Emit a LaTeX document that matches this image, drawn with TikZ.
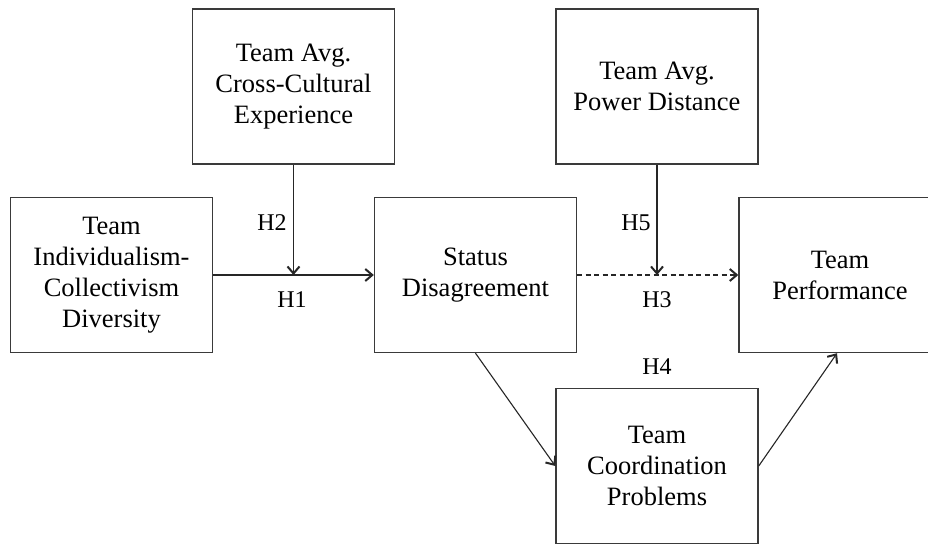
\documentclass[tikz,border=0pt]{standalone}
\usepackage{fontspec}
\setmainfont{Liberation Serif}
\usetikzlibrary{arrows.meta,calc}

\definecolor{edge}{HTML}{3A3A3A}

\tikzset{
  varbox/.style={draw=edge, line width=1.4pt, rectangle, minimum width=202pt,
    minimum height=155pt, align=center, inner sep=0pt,
    font=\fontsize{26.5}{31}\selectfont},
  hyp/.style={font=\fontsize{24}{28}\selectfont, inner sep=0pt},
  link/.style={draw=black!85, line width=1.1pt,
    -{Straight Barb[length=7pt,width=12pt,line width=2pt]}},
  dashlink/.style={link, dashed, dash pattern=on 5pt off 3.5pt}
}

\begin{document}
\begin{tikzpicture}[x=1pt, y=-1pt]
  \useasboundingbox (0,0) rectangle (928,544);
  \fill[white] (0,0) rectangle (928,544);

  % variables
  \node[varbox] (cce)  at (293.5,86.5) {Team Avg.\\Cross-Cultural\\Experience};
  \node[varbox] (pd)   at (657,86.5)   {Team Avg.\\Power Distance};
  \node[varbox] (icd)  at (111.5,275)  {Team\\Individualism-\\Collectivism\\Diversity};
  \node[varbox] (sd)   at (475.5,275)  {Status\\Disagreement};
  \node[varbox] (perf) at (840,275)    {Team\\Performance};
  \node[varbox] (tcp)  at (657,466)    {Team\\Coordination\\Problems};

  % moderation targets on the main paths
  \coordinate (m1) at (cce.south |- icd.east);
  \coordinate (m2) at (pd.south |- sd.east);

  % paths
  \draw[link] (icd.east) -- (sd.west);
  \draw[link] (cce.south) -- (m1);
  \draw[dashlink] (sd.east) -- (perf.west);
  \draw[link] (pd.south) -- (m2);
  \draw[link] (sd.south) -- (tcp.west);
  \draw[link] (tcp.east) -- ($(perf.south)+(-3,0)$);

  % hypothesis labels
  \node[hyp] (h2) at (272,223) {H2};
  \node[hyp] (h1) at (292,300) {H1};
  \node[hyp] (h5) at (636,223) {H5};
  \node[hyp] (h3) at (657,300) {H3};
  \node[hyp] (h4) at (657,367) {H4};
\end{tikzpicture}
\end{document}
